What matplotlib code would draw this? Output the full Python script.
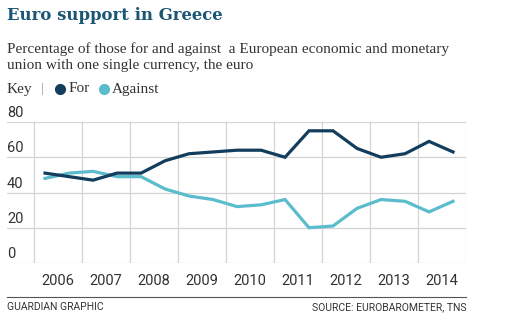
import matplotlib
matplotlib.use("Agg")
import matplotlib.pyplot as plt
import matplotlib.transforms as mtransforms

# Eurobarometer survey waves (spring and autumn of each year)
years = [2006, 2007, 2008, 2009, 2010, 2011, 2012, 2013, 2014]
wave_offsets = [0.23, 0.73]
support_for = [51, 49, 47, 51, 51, 58, 62, 63, 64, 64, 60, 75, 75, 65, 60, 62, 69, 63]
support_against = [48, 51, 52, 49, 49, 42, 38, 36, 32, 33, 36, 20, 21, 31, 36, 35, 29, 35]
y_ticks = [0, 20, 40, 60, 80]

DARK = "#123d5c"
LIGHT = "#5bbccd"
TITLE = "#1b5675"
TEXT = "#333333"
GRID = "#d4d4d4"

W, H = 515, 329
fig = plt.figure(figsize=(W / 100, H / 100), dpi=100)
fig.patch.set_facecolor("white")


def fx(px):
    return px / W


def fy(py):
    return 1 - py / H


ax = fig.add_axes([fx(7), fy(263), fx(466) - fx(7), fy(122) - fy(263)])
x_left = years[0] - 27 / 48
ax.set_xlim(x_left, years[-1] + 1)
ax.set_ylim(0, 80)
for s in ax.spines.values():
    s.set_visible(False)
ax.set_xticks([])
ax.set_yticks([])

# grid
for v in y_ticks:
    ax.axhline(v, color=GRID, lw=0.9, zorder=1)
for yr in years + [years[-1] + 1]:
    ax.axvline(yr, color=GRID, lw=0.9, zorder=1)

xs = [yr + off for yr in years for off in wave_offsets]
ax.plot(xs, support_against, color=LIGHT, lw=2.3, solid_joinstyle="miter", zorder=3)
ax.plot(xs, support_for, color=DARK, lw=2.3, solid_joinstyle="miter", zorder=4)

# y labels sit just above their gridlines at the left edge
up = mtransforms.ScaledTranslation(0, 2 / 100, fig.dpi_scale_trans)
for v in y_ticks:
    ax.text(0, v, str(v), transform=ax.get_yaxis_transform() + up,
            ha="left", va="bottom", fontsize=10.5, family="Roboto", color=TEXT)

# year labels centered in each column
for yr in years:
    ax.text(yr + 0.5, -0.13, str(yr), transform=ax.get_xaxis_transform(),
            ha="center", va="center", fontsize=10.5, family="Roboto", color=TEXT)

# headline and standfirst
fig.text(fx(7), fy(15), "Euro support in Greece", ha="left", va="center",
         fontsize=11.9, fontweight="bold", family="DejaVu Serif", color=TITLE)
fig.text(fx(7), fy(49), "Percentage of those for and against  a European economic and monetary",
         ha="left", va="center", fontsize=11, family="Liberation Serif", color=TEXT)
fig.text(fx(7), fy(66), "union with one single currency, the euro",
         ha="left", va="center", fontsize=11, family="Liberation Serif", color=TEXT)

# key
fig.text(fx(7), fy(89), "Key", ha="left", va="center", fontsize=11,
         family="Liberation Serif", color=TEXT)
fig.text(fx(41), fy(89), "|", ha="left", va="center", fontsize=9,
         family="Liberation Serif", color="#888888")
fig.add_artist(plt.Line2D([fx(60)], [fy(89)], marker="o", ms=7, color=DARK,
                          transform=fig.transFigure))
fig.text(fx(69), fy(89), "For", ha="left", va="center", fontsize=11,
         family="Liberation Serif", color=TEXT)
fig.add_artist(plt.Line2D([fx(104)], [fy(89)], marker="o", ms=7, color=LIGHT,
                          transform=fig.transFigure))
fig.text(fx(112), fy(89), "Against", ha="left", va="center", fontsize=11,
         family="Liberation Serif", color=TEXT)

# footer rule and credits
fig.add_artist(plt.Line2D([fx(7), fx(466)], [fy(297), fy(297)], color="#555555",
                          lw=0.8, transform=fig.transFigure))
fig.text(fx(7), fy(307), "GUARDIAN GRAPHIC", ha="left", va="center",
         fontsize=7.5, family="Roboto", color=TEXT)
fig.text(fx(466), fy(307), "SOURCE: EUROBAROMETER, TNS", ha="right", va="center",
         fontsize=7.5, family="Roboto", color=TEXT)

fig.savefig("out.png", dpi=100, facecolor="white")
